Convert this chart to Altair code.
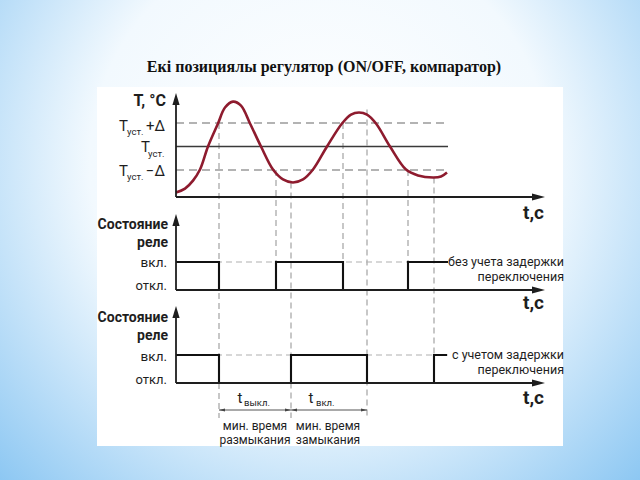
import altair as alt
import pandas as pd

# ---------------- data (time in arbitrary units, origin at the axes corner) ----------------
T_END = 272          # end of the drawn signals
T_AXIS = 369         # end of the time axes (arrow tip)

curve_t = [0, 9, 17, 24, 32, 42, 49, 57, 65, 74, 85, 97, 107, 117, 127, 137, 151,
           166, 175, 183, 191, 200, 214, 230, 242, 257, 265, 271]
curve_T = [-1.96, -1.79, -1.45, -0.98, 0.0, 0.98, 1.66, 1.91, 1.74, 0.98, 0.0, -0.98,
           -1.40, -1.53, -1.40, -0.98, 0.0, 0.98, 1.36, 1.45, 1.36, 0.98, 0.0, -0.98,
           -1.23, -1.32, -1.28, -1.11]

levels_T = [1, 0, -1]                 # Tуст.+Δ, Tуст., Tуст.−Δ
levels_kind = ["dash", "solid", "dash"]

relay1_t = [0, 43, 100, 167, 232, T_END]
relay1_s = [1, 0, 1, 0, 1, 1]
relay2_t = [0, 43, 115, 191, 258, 271]
relay2_s = [1, 0, 1, 0, 1, 1]

mark_t = [43, 100, 115, 167, 191, 232, 258]
mark_T = [1, -1, -1.53, 1, 1.57, -1, -1.32]
mark_end = ["dim", "relay1", "dim", "relay1", "dim", "relay1", "relay2"]

dim_start = [43, 115]
dim_end = [115, 191]

# ---------------- frames ----------------
one = pd.DataFrame({"a": [0]})
curve = pd.DataFrame({"t": curve_t, "T": curve_T})
levels = pd.DataFrame({"T": levels_T, "kind": levels_kind})
r1 = pd.DataFrame({"t": relay1_t, "s": relay1_s})
r2 = pd.DataFrame({"t": relay2_t, "s": relay2_s})
marks = pd.DataFrame({"t": mark_t, "T": mark_T, "end": mark_end})
dims = pd.DataFrame({"t0": dim_start, "t1": dim_end})

# ---------------- scales / styles ----------------
xs = alt.Scale(domain=[-176, 464], nice=False, zero=False)
ts = alt.Scale(domain=[-1, 1], range=[170, 123], nice=False, zero=False)
rs1 = alt.Scale(domain=[0, 1], range=[290, 262], nice=False, zero=False)
rs2 = alt.Scale(domain=[0, 1], range=[383, 355], nice=False, zero=False)

INK = "#1e1e1e"
GRAY = "#9a9a9a"
RED = "#8e1b2e"
NARROW = "Roboto, Liberation Sans, sans-serif"
SERIF = "Liberation Serif, Times New Roman, serif"
DASH = [6, 4]

layers = []

grad = {
    "gradient": "radial",
    "x1": 0.5, "y1": 0.38, "r1": 0.0,
    "x2": 0.5, "y2": 0.38, "r2": 0.72,
    "stops": [
        {"offset": 0.0, "color": "#ffffff"},
        {"offset": 0.5, "color": "#f2f9fe"},
        {"offset": 1.0, "color": "#88c5f2"},
    ],
}
layers.append(alt.Chart(one).mark_rect(fill=grad).encode(
    x=alt.value(0), x2=alt.value(640), y=alt.value(0), y2=alt.value(480)))
layers.append(alt.Chart(one).mark_rect(fill="white").encode(
    x=alt.value(97), x2=alt.value(563), y=alt.value(87), y2=alt.value(446)))

# vertical dashed guide lines
for end, bottom in [("dim", 418), ("relay1", 290), ("relay2", 383)]:
    layers.append(alt.Chart(marks).transform_filter(alt.datum.end == end)
                  .mark_rule(color=GRAY, strokeDash=DASH, strokeWidth=1.1).encode(
        x=alt.X("t:Q", scale=xs, axis=None),
        y=alt.Y("T:Q", scale=ts, axis=None),
        y2=alt.value(bottom)))

# temperature reference lines
layers.append(alt.Chart(levels).transform_filter(alt.datum.kind == "dash")
              .mark_rule(color=GRAY, strokeDash=[8, 5], strokeWidth=1.3).encode(
    x=alt.XDatum(0, scale=xs, axis=None), x2=alt.X2Datum(T_END),
    y=alt.Y("T:Q", scale=ts, axis=None)))
layers.append(alt.Chart(levels).transform_filter(alt.datum.kind == "solid")
              .mark_rule(color="#3a3a3a", strokeWidth=1.3).encode(
    x=alt.XDatum(0, scale=xs, axis=None), x2=alt.X2Datum(T_END),
    y=alt.Y("T:Q", scale=ts, axis=None)))

# relay "on" dashed levels
for sc in (rs1, rs2):
    layers.append(alt.Chart(one).mark_rule(color="#b0b0b0", strokeDash=DASH, strokeWidth=1.1).encode(
        x=alt.XDatum(0, scale=xs, axis=None), x2=alt.X2Datum(T_END),
        y=alt.YDatum(1, scale=sc, axis=None)))

# temperature curve
layers.append(alt.Chart(curve).mark_line(interpolate="catmull-rom", color=RED, strokeWidth=2.6).encode(
    x=alt.X("t:Q", scale=xs, axis=None),
    y=alt.Y("T:Q", scale=ts, axis=None)))

# relay step signals
for df, sc in ((r1, rs1), (r2, rs2)):
    layers.append(alt.Chart(df).mark_line(interpolate="step-after", color="#111111",
                                          strokeWidth=2.1, strokeJoin="miter").encode(
        x=alt.X("t:Q", scale=xs, axis=None),
        y=alt.Y("s:Q", scale=sc, axis=None)))

# axes lines
for top, bottom in [(93, 197), (214, 290), (306, 383)]:
    layers.append(alt.Chart(one).mark_rule(color=INK, strokeWidth=1.8).encode(
        x=alt.XDatum(0, scale=xs, axis=None), y=alt.value(top + 6), y2=alt.value(bottom)))
    layers.append(alt.Chart(one).mark_rule(color=INK, strokeWidth=1.8).encode(
        x=alt.XDatum(0, scale=xs, axis=None), x2=alt.X2Datum(T_AXIS - 8), y=alt.value(bottom)))
    # arrow heads
    layers.append(alt.Chart(one).mark_point(shape="M0,0L-0.6,2L0.6,2Z", filled=True, size=144,
                                            color=INK, opacity=1, strokeWidth=0).encode(
        x=alt.XDatum(0, scale=xs, axis=None), y=alt.value(top)))
    layers.append(alt.Chart(one).mark_point(shape="M0,0L-2,-0.55L-2,0.55Z", filled=True, size=169,
                                            color=INK, opacity=1, strokeWidth=0).encode(
        x=alt.XDatum(T_AXIS, scale=xs, axis=None), y=alt.value(bottom)))

# dimension arrows
layers.append(alt.Chart(dims).mark_rule(color="#555555", strokeWidth=1).encode(
    x=alt.X("t0:Q", scale=xs, axis=None), x2="t1:Q", y=alt.value(410)))
layers.append(alt.Chart(dims).mark_point(shape="M0,0L2,-0.5L2,0.5Z", filled=True, size=36,
                                         color="#444444", opacity=1, strokeWidth=0).encode(
    x=alt.X("t0:Q", scale=xs, axis=None), y=alt.value(410)))
layers.append(alt.Chart(dims).mark_point(shape="M0,0L-2,-0.5L-2,0.5Z", filled=True, size=36,
                                         color="#444444", opacity=1, strokeWidth=0).encode(
    x=alt.X("t1:Q", scale=xs, axis=None), y=alt.value(410)))


def label(text, x, y, size=13, weight="normal", align="right", font=NARROW, color=INK):
    return alt.Chart(one).mark_text(text=text, fontSize=size, fontWeight=weight, align=align,
                                    baseline="middle", font=font, color=color).encode(
        x=alt.value(x), y=alt.value(y))


# title
layers.append(label("Екі позициялы регулятор (ON/OFF, компаратор)", 324, 67, size=16,
                    weight="bold", align="center", font=SERIF, color="#111111"))

# temperature axis labels
layers.append(label("T, °C", 166, 101, size=16, weight="bold"))
layers.append(label("T", 119, 126, size=15, align="left"))
layers.append(label("уст.", 127, 132, size=9.5, align="left"))
layers.append(label("+Δ", 165, 126, size=15))
layers.append(label("T", 141, 147, size=15, align="left"))
layers.append(label("уст.", 148, 154, size=9.5, align="left"))
layers.append(label("T", 119, 171, size=15, align="left"))
layers.append(label("уст.", 127, 177, size=9.5, align="left"))
layers.append(label("−Δ", 165, 171, size=15))

# relay axis labels
for base, on_y, off_y in [(225, 263, 286), (318, 357, 380)]:
    layers.append(label("Состояние", 168, base, size=14, weight="bold"))
    layers.append(label("реле", 168, base + 18, size=14, weight="bold"))
    layers.append(label("вкл.", 167, on_y, size=13.5))
    layers.append(label("откл.", 167, off_y, size=13))

# time axis labels
for y in (213, 303, 398):
    layers.append(label("t,c", 544, y, size=19, weight="bold"))

# series notes
layers.append(label("без учета задержки", 564, 262, size=12.5))
layers.append(label("переключения", 564, 277, size=12.5))
layers.append(label("с учетом задержки", 564, 355, size=12.5))
layers.append(label("переключения", 564, 370, size=12.5))

# dimension labels
layers.append(label("t", 240, 398, size=15, align="center"))
layers.append(label("выкл.", 244, 403, size=9.5, align="left"))
layers.append(label("t", 311, 398, size=15, align="center"))
layers.append(label("вкл.", 316, 403, size=9.5, align="left"))
layers.append(label("мин. время", 255, 426, size=12, align="center"))
layers.append(label("размыкания", 255, 440, size=12, align="center"))
layers.append(label("мин. время", 328, 426, size=12, align="center"))
layers.append(label("замыкания", 328, 440, size=12, align="center"))

chart = (alt.layer(*layers)
         .resolve_scale(y="independent")
         .properties(width=640, height=480, autosize=alt.AutoSizeParams(type="none"), padding=0)
         .configure_view(stroke=None))

chart.save("out.html", embed_options={"renderer": "svg", "actions": False})
